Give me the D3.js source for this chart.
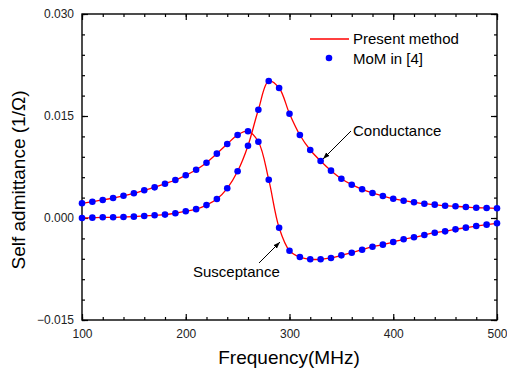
<!DOCTYPE html>
<html>
<head>
<meta charset="utf-8">
<script src="https://cdn.jsdelivr.net/npm/d3@7"></script>
<style>
body { margin: 0; background: #fff; }
text { font-family: Arial, "Liberation Sans", sans-serif; }
</style>
</head>
<body>
<div id="chart"></div>
<script>
var width = 507, height = 375;

// frequency points (MHz)
var freq = d3.range(100, 501, 10);

// conductance (1/Ohm)
var conductance = [0.0000, 0.00005, 0.0001, 0.0001, 0.00015, 0.0002, 0.0003, 0.0004, 0.0005, 0.0007,
	0.0010, 0.0013, 0.0019, 0.0028, 0.00437, 0.00687, 0.01063, 0.01593, 0.02015, 0.01912,
	0.01534, 0.01221, 0.0100, 0.00838, 0.00696, 0.00578, 0.0049, 0.00422, 0.00368, 0.00324,
	0.00284, 0.00254, 0.00231, 0.0021, 0.00196, 0.00181, 0.00172, 0.00162, 0.00151, 0.00147,
	0.00143];

// susceptance (1/Ohm)
var susceptance = [0.00216, 0.0024, 0.00265, 0.00294, 0.00328, 0.00363, 0.00407, 0.00451, 0.00504, 0.00559,
	0.00628, 0.0071, 0.00813, 0.00946, 0.01088, 0.01221, 0.01275, 0.01122, 0.00563, -0.00143,
	-0.00481, -0.00574, -0.00607, -0.00607, -0.00588, -0.00549, -0.0051, -0.00466, -0.00422, -0.00392,
	-0.00353, -0.00313, -0.00284, -0.0025, -0.00216, -0.00196, -0.00167, -0.00142, -0.00118, -0.00098,
	-0.00078];

var xTicks = [100, 200, 300, 400, 500];
var yTicks = [-0.015, 0.000, 0.015, 0.030];
var xMinor = d3.range(100, 501, 20);
var yMinor = d3.range(-15, 31, 3).map(function(d){ return d / 1000; });

var series = [conductance, susceptance];

var svg = d3.select("#chart").append("svg")
	.attr("width", width)
	.attr("height", height);

var x = d3.scaleLinear().domain([100, 500]).range([82, 497]);
var y = d3.scaleLinear().domain([-0.015, 0.030]).range([320, 14]);

var fmtY = d3.format(".3f");

function tickGroup(axis, transform){
	var g = svg.append("g").attr("transform", transform).call(axis);
	g.select(".domain").remove();
	g.selectAll("line").attr("stroke", "#000").attr("stroke-width", 1.2);
	g.selectAll("text").attr("font-size", 12).attr("fill", "#222");
	return g;
}

// bottom
tickGroup(d3.axisTop(x).tickValues(xMinor).tickSize(3).tickFormat(""), "translate(0,320)");
var gb = tickGroup(d3.axisTop(x).tickValues(xTicks).tickSize(6).tickFormat(d3.format("d")), "translate(0,320)");
gb.selectAll("text").attr("y", 18).attr("dy", 0);
// top
tickGroup(d3.axisBottom(x).tickValues(xMinor).tickSize(3).tickFormat(""), "translate(0,14)");
tickGroup(d3.axisBottom(x).tickValues(xTicks).tickSize(6).tickFormat(""), "translate(0,14)");
// left
tickGroup(d3.axisRight(y).tickValues(yMinor).tickSize(3).tickFormat(""), "translate(82,0)");
var gl = tickGroup(d3.axisRight(y).tickValues(yTicks).tickSize(6).tickFormat(fmtY), "translate(82,0)");
gl.selectAll("text").attr("x", -8).attr("text-anchor", "end");
// right
tickGroup(d3.axisLeft(y).tickValues(yMinor).tickSize(3).tickFormat(""), "translate(497,0)");
tickGroup(d3.axisLeft(y).tickValues(yTicks).tickSize(6).tickFormat(""), "translate(497,0)");

svg.append("rect")
	.attr("x", 82).attr("y", 14)
	.attr("width", 415).attr("height", 306)
	.attr("fill", "none").attr("stroke", "#000").attr("stroke-width", 1.4);

var line = d3.line()
	.x(function(d, i){ return x(freq[i]); })
	.y(function(d){ return y(d); })
	.curve(d3.curveCatmullRom.alpha(0.5));

series.forEach(function(s){
	svg.append("path")
		.attr("d", line(s))
		.attr("fill", "none")
		.attr("stroke", "#ff0000")
		.attr("stroke-width", 1.3);
});

series.forEach(function(s){
	svg.append("g").selectAll("circle")
		.data(s)
		.enter().append("circle")
		.attr("cx", function(d, i){ return x(freq[i]); })
		.attr("cy", function(d){ return y(d); })
		.attr("r", 3.3)
		.attr("fill", "#0000ff");
});

// legend
svg.append("line").attr("x1", 310).attr("x2", 349).attr("y1", 39).attr("y2", 39)
	.attr("stroke", "#ff0000").attr("stroke-width", 1.3);
svg.append("text").attr("x", 353).attr("y", 44).attr("font-size", 15).text("Present method");
svg.append("circle").attr("cx", 329).attr("cy", 58).attr("r", 3.3).attr("fill", "#0000ff");
svg.append("text").attr("x", 353).attr("y", 64).attr("font-size", 15).text("MoM in [4]");

// annotations
svg.append("defs").append("marker")
	.attr("id", "arrow")
	.attr("viewBox", "0 0 10 10")
	.attr("refX", 10).attr("refY", 5)
	.attr("markerWidth", 7).attr("markerHeight", 7)
	.attr("orient", "auto")
	.append("path").attr("d", "M0,1.5 L10,5 L0,8.5 Z").attr("fill", "#000");

svg.append("line").attr("x1", 351).attr("y1", 131).attr("x2", 323).attr("y2", 159)
	.attr("stroke", "#000").attr("stroke-width", 1).attr("marker-end", "url(#arrow)");
svg.append("text").attr("x", 353).attr("y", 136).attr("font-size", 15).text("Conductance");

svg.append("line").attr("x1", 259).attr("y1", 263).attr("x2", 280).attr("y2", 242)
	.attr("stroke", "#000").attr("stroke-width", 1).attr("marker-end", "url(#arrow)");
svg.append("text").attr("x", 193).attr("y", 277).attr("font-size", 15).text("Susceptance");

// axis titles
svg.append("text").attr("x", 289).attr("y", 364).attr("text-anchor", "middle")
	.attr("font-size", 19).text("Frequency(MHz)");
svg.append("text")
	.attr("transform", "translate(25,180) rotate(-90)")
	.attr("text-anchor", "middle").attr("font-size", 19)
	.text("Self admittance (1/\u03A9)");
</script>
</body>
</html>
